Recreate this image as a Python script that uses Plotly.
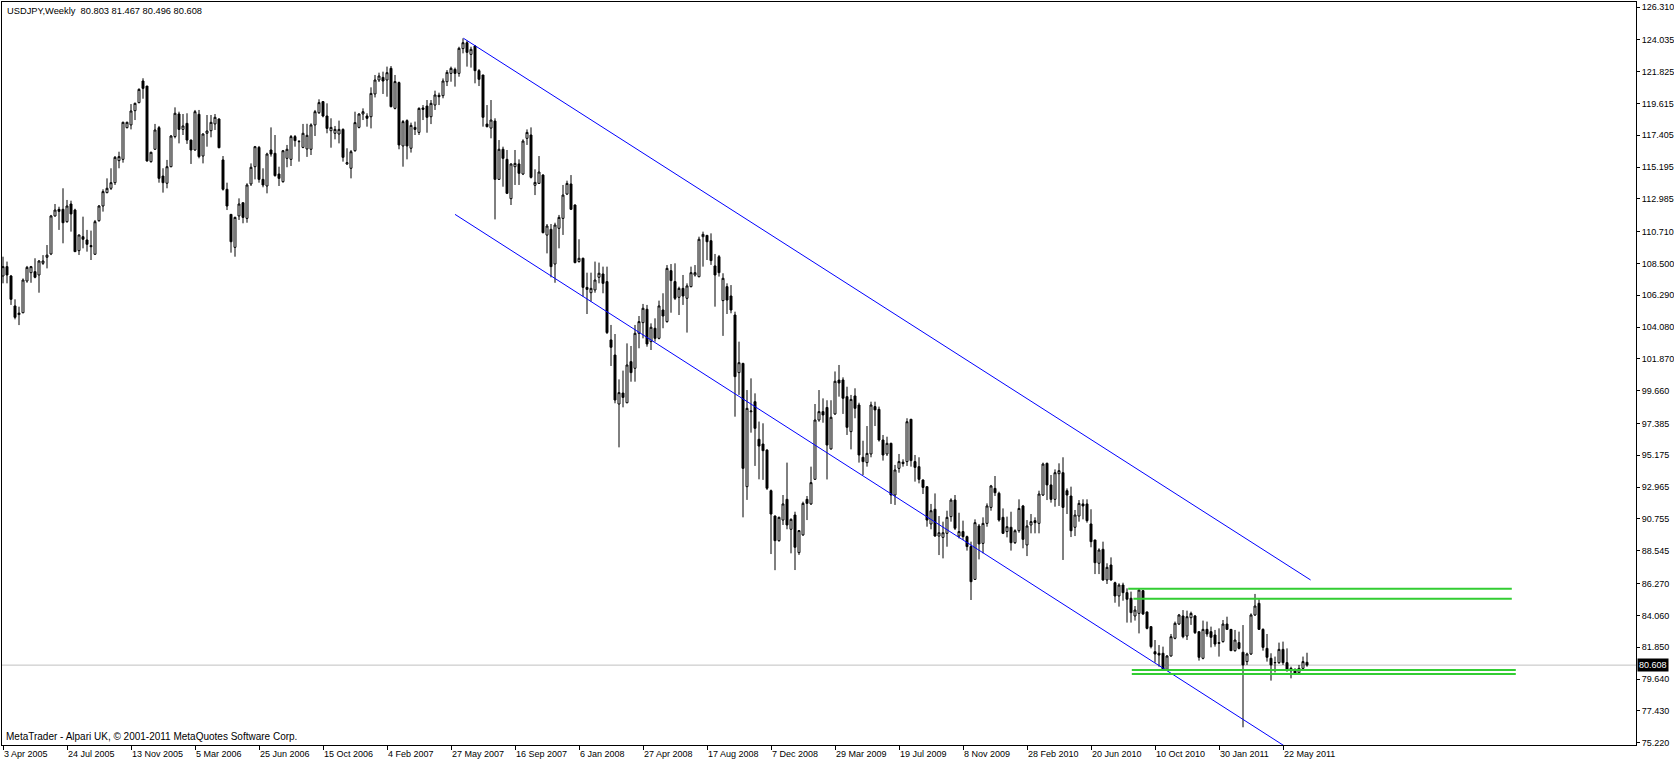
import pandas as pd
import plotly.graph_objects as go

SYMBOL_TITLE = "USDJPY,Weekly\u00a0\u00a080.803 81.467 80.496 80.608"
FOOTER = "MetaTrader - Alpari UK, \u00a9 2001-2011 MetaQuotes Software Corp."
FIRST_WEEK = "2005-04-03"

OPEN = [
    107.63, 108.28, 107.63, 105.55, 104.95, 105.08, 107.28, 107.86, 107.93, 107.70,
    108.51, 108.93, 109.16, 111.80, 112.26, 112.26, 111.40, 112.63, 112.21, 109.39,
    110.36, 110.13, 109.74, 109.14, 111.47, 112.49, 113.42, 113.72, 114.11, 115.64,
    115.73, 117.93, 118.12, 119.11, 119.67, 121.17, 120.82, 115.57, 116.43, 117.93,
    114.57, 114.07, 115.22, 117.31, 118.88, 117.81, 118.23, 117.07, 116.38, 118.86,
    115.96, 117.54, 117.72, 118.19, 118.53, 115.69, 113.65, 111.91, 109.62, 111.80,
    112.72, 111.63, 114.02, 115.22, 116.56, 114.34, 113.88, 116.38, 116.15, 114.71,
    114.18, 115.80, 115.73, 117.31, 116.98, 116.56, 116.45, 116.43, 118.12, 118.97,
    119.74, 118.74, 117.72, 117.54, 117.49, 117.81, 115.41, 115.11, 116.33, 117.95,
    118.88, 118.74, 118.69, 120.27, 121.24, 121.42, 121.24, 122.05, 119.27, 121.06,
    116.66, 118.42, 116.50, 117.95, 117.60, 119.30, 119.43, 118.69, 119.50, 120.18,
    120.15, 121.12, 121.70, 121.98, 121.70, 123.42, 123.83, 123.02, 123.60, 121.89,
    121.59, 118.18, 117.90, 118.39, 114.34, 116.43, 115.73, 113.00, 115.22, 115.41,
    114.71, 117.19, 117.42, 113.93, 114.06, 114.64, 110.47, 110.87, 108.46, 110.94,
    111.63, 113.32, 114.02, 112.56, 108.63, 108.86, 106.84, 106.47, 106.66, 107.54,
    107.77, 107.24, 103.19, 102.14, 98.74, 99.50, 98.83, 101.68, 101.22, 103.65,
    104.39, 105.32, 103.07, 104.00, 103.30, 105.27, 104.46, 108.00, 107.24, 106.15,
    106.77, 106.08, 106.89, 107.70, 107.58, 110.36, 110.45, 110.08, 108.33, 108.97,
    105.92, 106.89, 106.24, 104.92, 100.92, 101.56, 93.00, 98.20, 98.90, 96.29,
    95.96, 95.54, 92.72, 90.96, 89.25, 90.68, 92.12, 90.04, 91.03, 88.42,
    89.65, 92.12, 91.80, 93.51, 97.63, 98.21, 98.50, 95.62, 98.05, 100.40,
    100.41, 99.25, 96.82, 99.30, 98.67, 95.04, 94.67, 95.27, 98.56, 98.37,
    96.24, 95.27, 96.01, 92.42, 94.27, 94.70, 94.74, 97.68, 94.74, 94.39,
    93.46, 93.00, 90.41, 91.43, 89.57, 89.48, 89.76, 90.92, 92.07, 89.57,
    89.88, 89.53, 88.84, 86.56, 90.27, 89.06, 90.45, 91.56, 92.88, 92.54,
    90.87, 89.88, 90.18, 89.11, 89.94, 91.66, 88.95, 90.34, 90.64, 90.45,
    92.42, 94.62, 93.12, 92.12, 93.90, 93.97, 92.72, 92.35, 90.18, 90.96,
    91.80, 91.80, 90.41, 89.30, 87.68, 88.65, 86.52, 87.56, 86.33, 85.41,
    86.17, 85.64, 85.25, 84.02, 84.20, 85.78, 84.30, 83.28, 81.54, 81.43,
    81.43, 80.31, 81.24, 82.47, 83.46, 84.02, 82.63, 83.90, 84.02, 82.93,
    81.08, 83.09, 82.93, 82.70, 82.17, 82.24, 83.46, 83.09, 81.61, 82.17,
    81.50, 80.85, 81.38, 84.09, 84.90, 83.09, 81.77, 81.08, 80.77, 80.78,
    81.70, 80.78, 80.38, 80.31, 80.08, 80.38, 80.803,
]

HIGH = [
    108.97, 108.63, 107.70, 106.01, 105.50, 107.46, 108.33, 108.33, 108.86, 108.74,
    109.08, 109.78, 111.87, 112.63, 112.44, 113.72, 112.91, 112.86, 112.30, 110.50,
    111.75, 110.83, 110.78, 111.52, 112.56, 113.65, 114.41, 115.11, 115.96, 116.26,
    118.35, 118.35, 119.57, 119.67, 120.66, 121.36, 120.82, 116.26, 118.19, 118.05,
    115.11, 115.69, 117.42, 119.34, 119.04, 118.88, 118.93, 117.10, 119.16, 119.16,
    117.54, 118.81, 118.81, 118.88, 118.58, 115.96, 114.11, 111.91, 111.75, 113.02,
    112.72, 114.07, 115.45, 116.66, 116.66, 115.11, 116.19, 117.95, 117.42, 115.22,
    116.38, 116.73, 117.42, 117.42, 117.07, 118.19, 118.20, 118.23, 119.16, 119.90,
    119.74, 119.62, 118.58, 118.05, 118.42, 117.88, 116.50, 116.38, 119.04, 118.93,
    119.27, 118.93, 120.73, 121.59, 121.75, 121.82, 122.17, 122.21, 121.59, 121.13,
    118.46, 118.51, 118.28, 118.35, 119.34, 119.50, 119.85, 119.85, 120.50, 120.36,
    121.35, 121.93, 122.17, 122.10, 123.55, 124.13, 123.97, 123.55, 123.67, 122.00,
    121.59, 119.50, 119.85, 118.58, 117.07, 116.61, 116.38, 115.45, 116.38, 115.73,
    117.12, 117.81, 117.95, 115.04, 115.96, 114.70, 111.24, 111.24, 111.33, 111.87,
    113.95, 114.25, 114.64, 112.60, 110.18, 108.90, 107.86, 107.86, 108.63, 108.56,
    108.28, 108.28, 104.23, 103.60, 100.45, 101.06, 102.95, 102.77, 104.23, 104.85,
    105.69, 105.62, 104.34, 104.69, 105.92, 106.43, 108.39, 108.46, 108.51, 106.89,
    107.70, 107.12, 108.28, 108.39, 110.36, 110.71, 110.48, 110.59, 109.16, 109.09,
    107.82, 107.12, 107.00, 105.15, 103.07, 101.60, 99.71, 100.52, 99.48, 97.52,
    97.40, 95.60, 92.80, 91.00, 90.92, 92.42, 94.67, 90.80, 91.26, 89.99,
    91.96, 92.35, 94.39, 98.74, 99.71, 99.13, 99.00, 99.00, 101.00, 101.45,
    100.59, 99.94, 99.37, 99.83, 98.83, 96.19, 97.21, 98.90, 98.90, 98.56,
    96.59, 96.47, 96.05, 94.51, 95.27, 94.90, 97.75, 97.70, 95.20, 95.04,
    93.51, 93.00, 91.80, 92.53, 90.96, 90.57, 91.33, 92.19, 92.42, 91.19,
    90.64, 89.60, 89.18, 90.73, 90.41, 90.87, 91.84, 93.12, 93.74, 92.65,
    91.49, 90.92, 91.26, 90.04, 92.12, 91.73, 90.68, 91.10, 90.87, 92.72,
    94.67, 94.67, 93.81, 94.20, 94.62, 95.04, 92.88, 93.00, 91.38, 92.07,
    92.12, 92.12, 91.43, 89.30, 88.72, 89.18, 87.68, 88.09, 86.40, 86.29,
    86.33, 85.94, 85.71, 84.71, 85.94, 85.82, 84.32, 83.28, 82.35, 82.00,
    81.89, 81.31, 82.77, 83.63, 84.16, 84.43, 84.39, 84.32, 84.09, 82.93,
    83.70, 83.63, 83.28, 83.05, 83.16, 83.74, 83.97, 83.10, 83.05, 82.93,
    83.39, 81.47, 84.20, 85.55, 85.18, 83.16, 82.77, 81.43, 81.20, 82.17,
    82.24, 81.77, 80.50, 80.38, 80.62, 81.20, 81.467,
]

LOW = [
    107.12, 107.12, 105.62, 104.62, 104.22, 105.04, 107.16, 107.16, 107.47, 106.47,
    108.40, 108.16, 109.08, 111.75, 110.83, 109.90, 111.33, 110.71, 109.30, 109.09,
    109.55, 109.32, 108.74, 109.09, 111.40, 112.10, 113.37, 113.60, 113.95, 115.11,
    115.50, 117.88, 117.81, 118.46, 119.62, 119.94, 115.57, 115.50, 116.38, 114.11,
    113.42, 113.72, 115.18, 117.19, 116.84, 117.42, 116.80, 115.41, 116.33, 115.80,
    115.45, 116.61, 117.26, 117.77, 116.50, 113.56, 112.21, 109.25, 108.97, 111.52,
    111.29, 111.33, 113.88, 114.34, 114.11, 113.79, 113.37, 115.92, 114.53, 113.88,
    114.11, 115.18, 115.27, 116.61, 115.57, 116.50, 115.90, 116.03, 117.35, 118.88,
    118.65, 117.54, 116.54, 117.12, 116.84, 115.57, 115.34, 114.41, 116.26, 117.88,
    118.46, 118.00, 117.88, 120.03, 121.10, 120.27, 120.08, 119.34, 119.20, 116.43,
    115.22, 115.73, 116.20, 117.42, 117.42, 118.46, 117.58, 118.18, 119.16, 119.50,
    119.97, 120.82, 121.12, 120.78, 121.47, 123.09, 122.17, 122.10, 121.01, 120.82,
    118.00, 117.95, 117.19, 111.56, 114.30, 113.83, 113.32, 112.56, 113.95, 113.95,
    114.64, 116.73, 114.40, 113.25, 114.02, 110.59, 109.20, 107.54, 107.16, 109.55,
    110.48, 113.25, 112.21, 108.51, 108.56, 106.20, 104.99, 105.85, 106.47, 107.12,
    106.43, 103.60, 101.38, 98.79, 95.73, 98.51, 98.79, 100.29, 100.29, 102.61,
    103.30, 102.72, 102.49, 103.07, 103.23, 104.00, 104.39, 105.08, 105.96, 104.92,
    105.62, 103.70, 106.84, 107.59, 107.54, 108.28, 108.74, 108.40, 105.50, 107.59,
    103.47, 104.99, 105.04, 97.86, 99.37, 90.87, 92.08, 96.75, 94.44, 93.51,
    93.47, 92.77, 88.32, 87.20, 89.18, 90.34, 90.04, 88.37, 87.21, 88.26,
    89.58, 90.68, 91.73, 93.47, 97.51, 97.44, 93.50, 95.57, 97.98, 99.25,
    98.05, 96.59, 95.59, 97.75, 94.67, 93.81, 94.39, 95.04, 97.21, 96.13,
    94.81, 95.13, 91.80, 91.73, 93.97, 94.39, 94.44, 94.39, 93.35, 93.23,
    92.49, 90.22, 90.04, 89.53, 88.25, 88.02, 88.83, 90.57, 89.99, 89.41,
    89.30, 88.56, 85.13, 86.52, 87.95, 88.37, 90.22, 91.33, 92.35, 90.57,
    89.71, 89.48, 88.56, 89.02, 89.80, 88.72, 88.18, 89.76, 89.76, 89.76,
    92.35, 92.07, 91.89, 91.61, 91.66, 87.91, 91.10, 89.50, 89.57, 90.57,
    90.73, 90.50, 88.79, 86.93, 86.93, 86.47, 86.24, 86.47, 84.94, 84.67,
    85.08, 83.56, 83.56, 83.70, 82.81, 84.09, 83.09, 81.77, 80.78, 80.50,
    80.27, 80.22, 81.20, 82.40, 83.39, 82.47, 82.35, 83.40, 82.77, 80.92,
    81.01, 82.58, 81.84, 81.89, 81.20, 82.17, 83.05, 81.60, 81.54, 81.70,
    76.29, 80.62, 81.31, 84.02, 83.05, 81.61, 80.85, 79.53, 80.10, 80.69,
    80.62, 80.15, 79.69, 79.92, 79.99, 80.31, 80.496,
]

CLOSE = [
    108.28, 107.70, 106.01, 104.76, 105.05, 107.35, 108.23, 108.28, 107.54, 108.67,
    108.67, 109.08, 111.80, 112.21, 112.12, 111.33, 112.49, 111.94, 109.32, 110.48,
    110.18, 109.83, 109.67, 111.40, 112.49, 113.49, 113.72, 114.11, 115.87, 115.92,
    118.30, 118.30, 119.09, 119.62, 120.59, 120.66, 115.62, 116.22, 117.77, 114.41,
    114.11, 115.22, 117.35, 118.93, 117.81, 118.05, 117.07, 116.38, 119.04, 115.92,
    117.49, 117.70, 118.30, 118.65, 116.54, 113.65, 112.49, 110.01, 111.70, 112.63,
    111.70, 113.95, 115.18, 116.61, 114.34, 113.95, 116.10, 116.10, 114.60, 114.41,
    116.33, 116.43, 117.31, 117.03, 116.96, 117.54, 117.40, 118.12, 119.04, 119.67,
    118.74, 117.88, 117.95, 117.81, 117.81, 115.87, 115.50, 116.26, 118.28, 118.88,
    119.04, 118.58, 120.31, 121.24, 121.52, 121.17, 121.75, 119.39, 121.13, 116.73,
    118.35, 116.66, 118.09, 117.81, 119.27, 119.20, 118.65, 119.62, 120.20, 120.08,
    121.17, 121.77, 122.05, 121.70, 123.44, 123.83, 123.16, 123.37, 121.89, 121.29,
    118.65, 118.00, 118.46, 114.34, 116.43, 115.80, 113.37, 115.41, 115.45, 114.76,
    117.00, 117.60, 114.48, 114.13, 114.85, 110.64, 111.10, 108.28, 111.17, 111.70,
    113.25, 114.06, 112.26, 108.56, 108.86, 106.84, 106.70, 106.77, 107.35, 107.82,
    107.12, 103.70, 102.68, 99.02, 99.53, 99.20, 101.45, 100.92, 103.65, 104.46,
    105.39, 102.91, 104.07, 103.30, 105.55, 104.85, 108.16, 107.31, 106.08, 106.77,
    106.24, 106.94, 107.86, 107.86, 110.18, 110.52, 110.01, 108.70, 107.70, 107.86,
    107.47, 105.96, 105.27, 100.64, 101.61, 94.27, 98.44, 98.25, 97.05, 95.82,
    95.50, 92.89, 91.10, 89.25, 90.87, 91.80, 90.34, 90.73, 88.79, 89.95,
    91.84, 91.84, 93.28, 97.63, 98.21, 97.98, 95.89, 97.82, 100.32, 100.20,
    99.14, 97.12, 99.06, 98.44, 95.20, 94.74, 95.31, 98.67, 98.33, 96.24,
    95.20, 96.01, 92.42, 94.16, 94.74, 94.60, 97.51, 94.81, 94.34, 93.51,
    92.95, 90.68, 91.33, 89.57, 89.80, 89.80, 90.87, 92.07, 90.11, 89.88,
    89.53, 88.84, 86.40, 90.50, 89.02, 90.45, 91.66, 93.05, 92.58, 90.68,
    89.76, 90.22, 89.11, 89.94, 91.49, 89.34, 90.27, 90.57, 90.50, 92.49,
    94.57, 93.12, 92.12, 93.97, 94.11, 91.56, 92.42, 89.94, 91.03, 91.84,
    91.66, 90.64, 89.18, 87.72, 88.60, 86.52, 87.40, 86.52, 85.41, 86.17,
    85.64, 85.18, 84.25, 84.43, 85.82, 84.16, 83.16, 81.89, 81.38, 81.31,
    80.31, 81.24, 82.58, 83.51, 84.09, 82.58, 83.97, 84.20, 82.86, 81.15,
    83.09, 82.77, 82.54, 82.07, 82.12, 83.46, 83.09, 81.61, 82.35, 81.77,
    80.62, 81.38, 84.09, 84.71, 83.09, 81.84, 81.15, 80.62, 80.79, 81.70,
    80.78, 80.27, 80.22, 80.04, 80.38, 80.85, 80.608,
]

TICK_LABELS = [
    "3 Apr 2005", "24 Jul 2005", "13 Nov 2005", "5 Mar 2006", "25 Jun 2006",
    "15 Oct 2006", "4 Feb 2007", "27 May 2007", "16 Sep 2007", "6 Jan 2008",
    "27 Apr 2008", "17 Aug 2008", "7 Dec 2008", "29 Mar 2009", "19 Jul 2009",
    "8 Nov 2009", "28 Feb 2010", "20 Jun 2010", "10 Oct 2010", "30 Jan 2011",
    "22 May 2011",
]

PRICE_TICKS = [
    126.310, 124.035, 121.825, 119.615, 117.405, 115.195, 112.985, 110.710,
    108.500, 106.290, 104.080, 101.870, 99.660, 97.385, 95.175, 92.965,
    90.755, 88.545, 86.270, 84.060, 81.850, 79.640, 77.430, 75.220,
]

# Drawn objects: anchors in bar numbers (weeks from the first bar) and prices
CHANNEL_UPPER_BARS = [115.1, 326.9]
CHANNEL_UPPER_PRICES = [124.14, 86.52]
CHANNEL_LOWER_BARS = [113.0, 322.0]
CHANNEL_LOWER_PRICES = [111.91, 74.70]
LEVEL_PRICES = [85.91, 85.22, 80.27, 79.99]
LEVEL_START_BARS = [281.3, 282.6, 282.2, 282.2]
LEVEL_END_BARS = [377.2, 377.2, 378.2, 378.2]

VIEW_BARS = [-0.25, 408.25]
VIEW_PRICES = [75.06, 126.657]

assert len(OPEN) == len(HIGH) == len(LOW) == len(CLOSE)

t0 = pd.Timestamp(FIRST_WEEK)
dates = pd.date_range(t0, periods=len(OPEN), freq="7D")


def bar_to_date(b):
    return t0 + pd.Timedelta(days=7 * b)


FONT = "Liberation Sans, Arial, sans-serif"
FS = 9

fig = go.Figure()
fig.add_trace(go.Candlestick(
    x=dates, open=OPEN, high=HIGH, low=LOW, close=CLOSE,
    increasing=dict(line=dict(color="black", width=1), fillcolor="white"),
    decreasing=dict(line=dict(color="black", width=1), fillcolor="black"),
    whiskerwidth=0, showlegend=False, hoverinfo="skip",
))

fig.add_trace(go.Scatter(
    x=[bar_to_date(b) for b in CHANNEL_UPPER_BARS], y=CHANNEL_UPPER_PRICES,
    mode="lines", line=dict(color="#0000FF", width=1), showlegend=False, hoverinfo="skip"))
fig.add_trace(go.Scatter(
    x=[bar_to_date(b) for b in CHANNEL_LOWER_BARS], y=CHANNEL_LOWER_PRICES,
    mode="lines", line=dict(color="#0000FF", width=1), showlegend=False, hoverinfo="skip"))

for p, b0, b1 in zip(LEVEL_PRICES, LEVEL_START_BARS, LEVEL_END_BARS):
    fig.add_trace(go.Scatter(
        x=[bar_to_date(b0), bar_to_date(b1)], y=[p, p],
        mode="lines", line=dict(color="#32CD32", width=2), showlegend=False, hoverinfo="skip"))

last_close = CLOSE[-1]
fig.add_shape(type="line", xref="paper", x0=0, x1=1, yref="y", y0=last_close, y1=last_close,
              line=dict(color="#C0C0C0", width=1), layer="below")

W, H = 1674, 762
ML, MR, MT, MB = 2, 38, 2, 17
PW, PH = W - ML - MR, H - MT - MB


def px_x(x):
    return (x - ML) / PW


def px_y(y):
    return (H - MB - y) / PH


fig.add_annotation(x=px_x(5), y=px_y(10.5), xref="paper", yref="paper",
                   text=SYMBOL_TITLE, showarrow=False, xanchor="left", yanchor="middle",
                   font=dict(family=FONT, size=9.3, color="black"))
fig.add_annotation(x=px_x(4), y=px_y(736.5), xref="paper", yref="paper",
                   text=FOOTER, showarrow=False, xanchor="left", yanchor="middle",
                   font=dict(family=FONT, size=10, color="black"))
fig.add_annotation(x=px_x(1637), y=last_close, xref="paper", yref="y",
                   text=f"{last_close:.3f}", showarrow=False, xanchor="left", yanchor="middle",
                   bgcolor="black", borderpad=1,
                   font=dict(family=FONT, size=FS, color="white"))

fig.update_layout(
    width=W, height=H, margin=dict(l=ML, r=MR, t=MT, b=MB, pad=0, autoexpand=False),
    paper_bgcolor="white", plot_bgcolor="white", showlegend=False,
    font=dict(family=FONT, size=FS, color="black"),
)
fig.update_xaxes(
    type="date", range=[bar_to_date(VIEW_BARS[0]), bar_to_date(VIEW_BARS[1])],
    rangeslider_visible=False, showgrid=False, zeroline=False, automargin=False,
    showline=True, mirror=True, linecolor="black", linewidth=1,
    ticks="outside", ticklen=4, tickcolor="black", tickwidth=1,
    tickvals=[pd.to_datetime(s, format="%d %b %Y") for s in TICK_LABELS],
    ticktext=TICK_LABELS, ticklabelposition="outside right", tickangle=0,
    tickfont=dict(family=FONT, size=FS, color="black"),
)
fig.update_yaxes(
    side="right", range=VIEW_PRICES, showgrid=False, zeroline=False, automargin=False,
    showline=True, mirror=True, linecolor="black", linewidth=1,
    ticks="outside", ticklen=3, tickcolor="black", tickwidth=1,
    tickvals=PRICE_TICKS, ticktext=[f"{v:.3f}" for v in PRICE_TICKS],
    tickfont=dict(family=FONT, size=FS, color="black"),
)

fig.write_html(
    "out.html",
    config={"displayModeBar": False},
    post_script="document.body.style.margin='0';document.body.style.padding='0';"
                "document.body.style.overflow='hidden';"
                "document.documentElement.style.overflow='hidden';",
)
